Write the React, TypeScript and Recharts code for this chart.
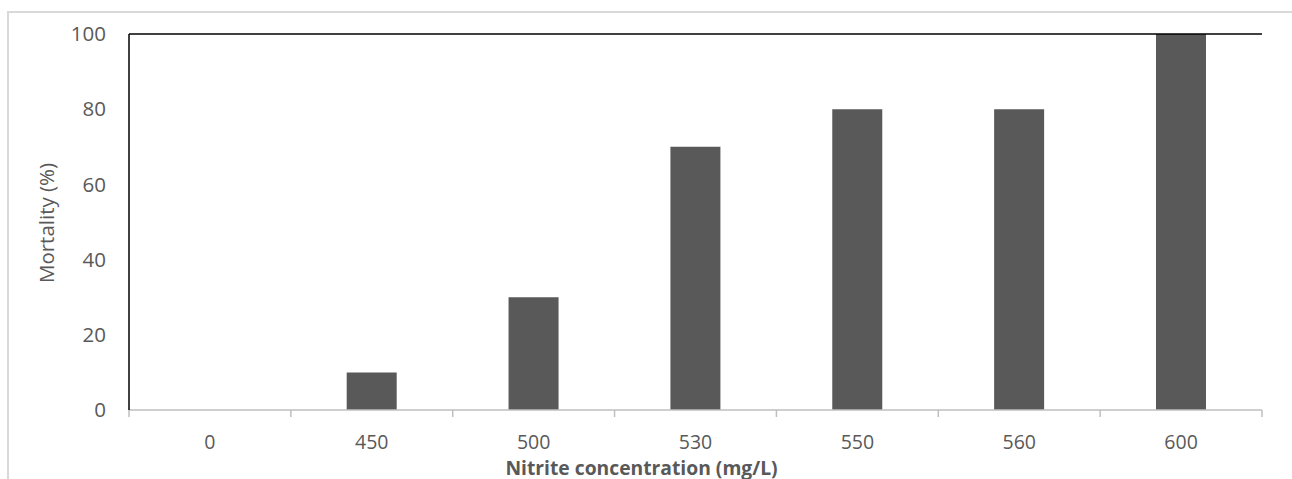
import React from 'react';
import { BarChart, Bar, XAxis, YAxis, ReferenceLine, Label } from 'recharts';

const categories = ['0', '450', '500', '530', '550', '560', '600'];
const mortality = [0, 10, 30, 70, 80, 80, 100];
const yTicks = [0, 20, 40, 60, 80, 100];

const data = categories.map((c, i) => ({ name: c, value: mortality[i] }));

const FONT = '"Open Sans", "Liberation Sans", sans-serif';
const TEXT = '#595959';

const XTick = (props: any) => {
  const { x, y, payload, index, visibleTicksCount } = props;
  const half = payload && payload.offset ? payload.offset : 80.93;
  const last = index === (visibleTicksCount ?? categories.length) - 1;
  return (
    <g>
      <line x1={x - half} x2={x - half} y1={y} y2={y + 7} stroke="#bfbfbf" strokeWidth={1.5} />
      {last && <line x1={x + half} x2={x + half} y1={y} y2={y + 7} stroke="#bfbfbf" strokeWidth={1.5} />}
      <text x={x} y={y + 31} textAnchor="middle" dominantBaseline="central" fill={TEXT} fontSize={19.5} fontFamily={FONT}>
        {payload.value}
      </text>
    </g>
  );
};

export default function App() {
  return (
    <div style={{ position: 'absolute', left: 0, top: 0, width: 1292, height: 479, overflow: 'hidden', background: '#fff' }}>
      <div style={{ position: 'absolute', left: 7, top: 11, width: 1400, height: 600, border: '2px solid #d9d9d9', boxSizing: 'border-box' }} />
      <div style={{ position: 'absolute', left: 0, top: 0 }}>
        <BarChart width={1292} height={479} data={data} margin={{ top: 34, right: 30, bottom: 0, left: 0 }} barCategoryGap="34.5%">
          <XAxis
            dataKey="name"
            height={69}
            axisLine={{ stroke: '#bfbfbf', strokeWidth: 1.5 }}
            tickLine={false}
            tickSize={0}
            tickMargin={0}
            tick={<XTick />}
            interval={0}
          >
            <Label
              content={(p: any) => {
                const vb = p.viewBox || {};
                const cx = vb.x + vb.width / 2 - 54;
                return (
                  <text x={cx} y={467} textAnchor="middle" dominantBaseline="central" fill={TEXT} fontSize={19.3} fontWeight="bold" fontFamily={FONT}>
                    Nitrite concentration (mg/L)
                  </text>
                );
              }}
            />
          </XAxis>
          <YAxis
            width={129}
            domain={[0, 100]}
            ticks={yTicks}
            axisLine={{ stroke: '#000', strokeWidth: 1.5 }}
            tickLine={false}
            tickSize={0}
            tickMargin={23}
            tick={{ fill: TEXT, fontSize: 20.5, fontFamily: FONT }}
            interval={0}
          >
            <Label
              content={() => (
                <text x={46} y={223} transform="rotate(-90 46 223)" textAnchor="middle" dominantBaseline="central" fill={TEXT} fontSize={20.5} fontFamily={FONT}>
                  Mortality (%)
                </text>
              )}
            />
          </YAxis>
          <YAxis yAxisId="r" orientation="right" width={0} domain={[0, 100]} tick={false} tickLine={false} axisLine={{ stroke: '#000', strokeWidth: 1.5 }} />
          <ReferenceLine y={100} stroke="#000" strokeWidth={1.5} />
          <Bar dataKey="value" fill="#595959" isAnimationActive={false} />
        </BarChart>
      </div>
    </div>
  );
}
